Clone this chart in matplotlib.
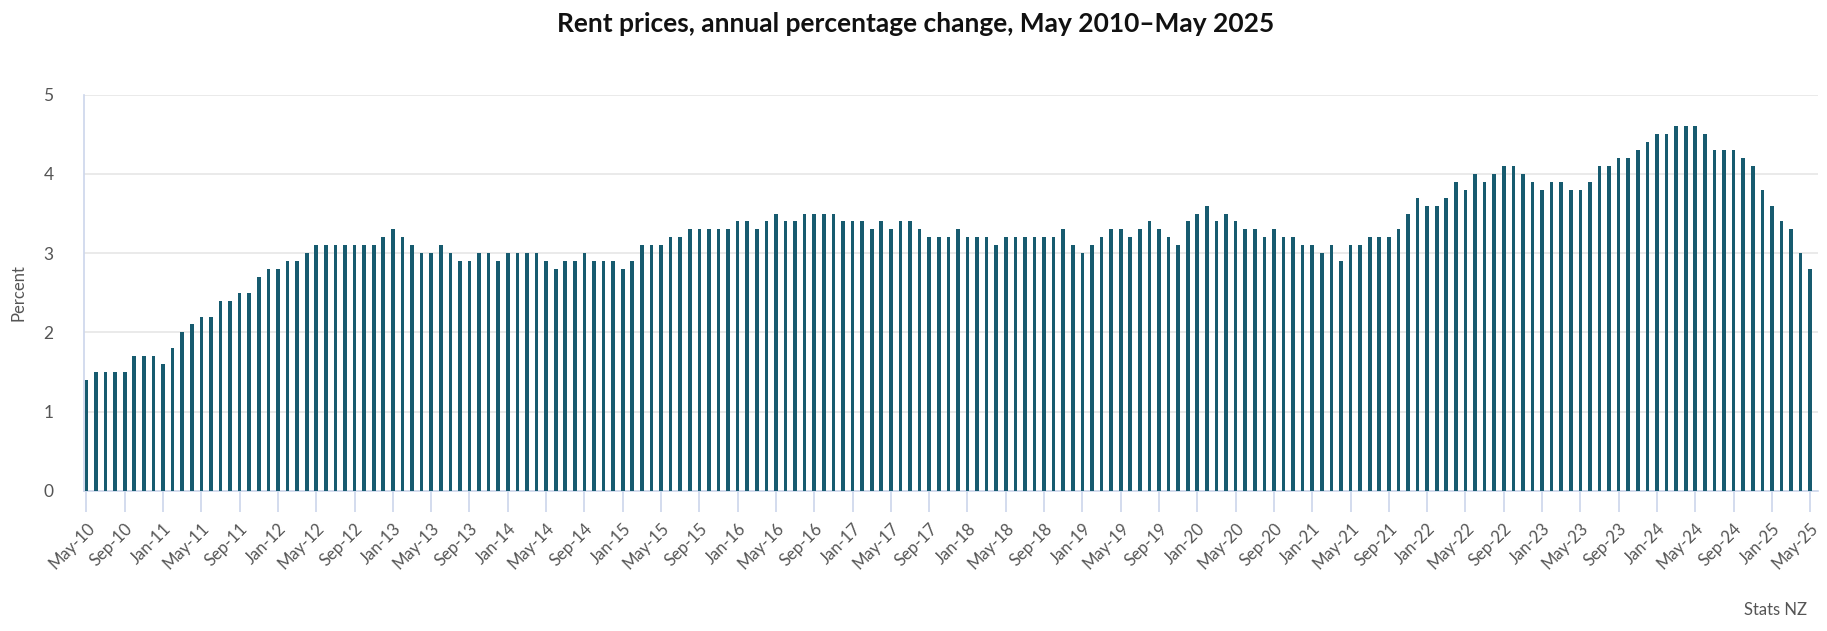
import numpy as np
import pandas as pd
import matplotlib
matplotlib.use("Agg")
import matplotlib.pyplot as plt

plt.rcParams['font.family'] = ['Lato', 'DejaVu Sans']

# annual % change in rent prices, May 2010 - May 2025 (monthly)
rent_change = [
    1.4, 1.5, 1.5, 1.5, 1.5, 1.7, 1.7, 1.7, 1.6, 1.8, 2.0, 2.1, 2.2, 2.2, 2.4, 2.4, 2.5, 2.5, 2.7, 2.8, 2.8, 2.9, 2.9, 3.0, 3.1,
    3.1, 3.1, 3.1, 3.1, 3.1, 3.1, 3.2, 3.3, 3.2, 3.1, 3.0, 3.0, 3.1, 3.0, 2.9, 2.9, 3.0, 3.0, 2.9, 3.0, 3.0, 3.0, 3.0, 2.9, 2.8,
    2.9, 2.9, 3.0, 2.9, 2.9, 2.9, 2.8, 2.9, 3.1, 3.1, 3.1, 3.2, 3.2, 3.3, 3.3, 3.3, 3.3, 3.3, 3.4, 3.4, 3.3, 3.4, 3.5, 3.4, 3.4,
    3.5, 3.5, 3.5, 3.5, 3.4, 3.4, 3.4, 3.3, 3.4, 3.3, 3.4, 3.4, 3.3, 3.2, 3.2, 3.2, 3.3, 3.2, 3.2, 3.2, 3.1, 3.2, 3.2, 3.2, 3.2,
    3.2, 3.2, 3.3, 3.1, 3.0, 3.1, 3.2, 3.3, 3.3, 3.2, 3.3, 3.4, 3.3, 3.2, 3.1, 3.4, 3.5, 3.6, 3.4, 3.5, 3.4, 3.3, 3.3, 3.2, 3.3,
    3.2, 3.2, 3.1, 3.1, 3.0, 3.1, 2.9, 3.1, 3.1, 3.2, 3.2, 3.2, 3.3, 3.5, 3.7, 3.6, 3.6, 3.7, 3.9, 3.8, 4.0, 3.9, 4.0, 4.1, 4.1,
    4.0, 3.9, 3.8, 3.9, 3.9, 3.8, 3.8, 3.9, 4.1, 4.1, 4.2, 4.2, 4.3, 4.4, 4.5, 4.5, 4.6, 4.6, 4.6, 4.5, 4.3, 4.3, 4.3, 4.2, 4.1,
    3.8, 3.6, 3.4, 3.3, 3.0, 2.8,
]
months = pd.date_range("2010-05-01", periods=len(rent_change), freq="MS")
month_labels = [m.strftime("%b-%y") for m in months]
y_ticks = [0, 1, 2, 3, 4, 5]

bar_col = "#175b6f"
axis_col = "#ccd6eb"
grid_col = "#e6e6e6"
text_col = "#555555"

fig = plt.figure(figsize=(18.27, 6.31), dpi=100)
ax = fig.add_axes([0.046, 0.222, 0.949, 0.628])

x = np.arange(len(rent_change))
ax.bar(x, rent_change, width=0.38, color=bar_col, zorder=3)

ax.set_ylim(0, 5)
ax.set_xlim(-0.25, len(rent_change) - 0.2)
ax.set_yticks(y_ticks)
ax.set_yticklabels([str(t) for t in y_ticks], fontsize=12.5, color=text_col)
ax.yaxis.grid(True, color=grid_col, linewidth=1.2, zorder=0)
ax.tick_params(axis='y', length=0, pad=22)

tick_pos = x[::4]
ax.set_xticks(tick_pos)
ax.set_xticklabels([month_labels[i] for i in tick_pos], rotation=45, ha='right',
                   rotation_mode='anchor', fontsize=12, color=text_col)
ax.tick_params(axis='x', length=15, width=1.2, color=axis_col, pad=6)

for s in ['top', 'right']:
    ax.spines[s].set_visible(False)
ax.spines['left'].set_color(axis_col)
ax.spines['bottom'].set_color(axis_col)
ax.spines['left'].set_linewidth(1.2)
ax.spines['bottom'].set_linewidth(1.2)

ax.set_ylabel("Percent", fontsize=12, color=text_col, labelpad=12)

fig.text(0.501, 0.962, "Rent prices, annual percentage change, May 2010\u2013May 2025",
         ha='center', va='center', fontsize=19, fontweight='bold', color='#111111')
fig.text(0.989, 0.033, "Stats NZ", ha='right', va='center', fontsize=12, color=text_col)

fig.savefig("out.png", dpi=100)
